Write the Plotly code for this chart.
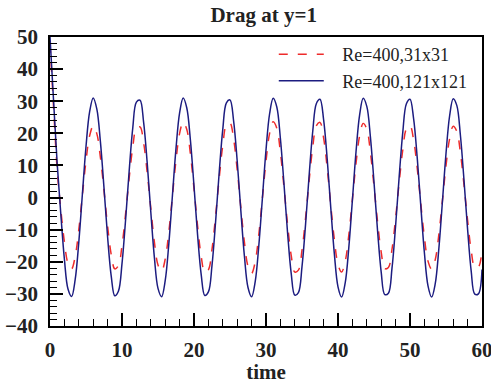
import plotly.graph_objects as go

time = [i * 0.5 for i in range(121)]

drag_121 = [
    50, 30, 10.5, -5.1, -19.2, -28.5, -30.8, -25.5, -13.9, 1.1,
    15.9, 26.7, 31.0, 27.6, 17.4, 3.0, -12.3, -24.4, -30.6, -29.2,
    -20.6, -6.9, 8.4, 21.8, 29.7, 30.3, 23.5, 10.8, -4.5, -18.7,
    -28.3, -30.9, -25.9, -14.5, 0.5, 15.3, 26.4, 31.0, 27.9, 17.9,
    3.6, -11.7, -24.0, -30.5, -29.4, -21.1, -7.5, 7.8, 21.3, 29.5,
    30.4, 23.9, 11.4, -3.9, -18.2, -28.0, -30.9, -26.2, -15.0, -0.2,
    14.8, 26.1, 30.9, 28.2, 18.4, 4.2, -11.1, -23.6, -30.4, -29.6,
    -21.5, -8.2, 7.2, 20.8, 29.3, 30.6, 24.3, 12.0, -3.3, -17.7,
    -27.8, -31.0, -26.6, -15.6, -0.8, 14.2, 25.7, 30.9, 28.4, 18.9,
    4.8, -10.5, -23.2, -30.2, -29.8, -22.0, -8.8, 6.6, 20.4, 29.2,
    30.6, 24.6, 12.5, -2.6, -17.2, -27.5, -31.0, -26.9, -16.1, -1.4,
    13.7, 25.4, 30.8, 28.7, 19.4, 5.4, -9.9, -22.9, -30.1, -30.0,
    -22.4,
]

drag_31 = [
    48, 28, 8.5, -3.7, -13.8, -20.5, -22.2, -18.3, -10.0, 0.8,
    11.4, 19.2, 22.3, 19.9, 12.5, 2.2, -8.9, -17.7, -22.2, -21.2,
    -15.0, -5.0, 6.1, 15.8, 21.6, 22.0, 17.1, 7.8, -3.3, -13.9,
    -21.0, -22.9, -19.2, -10.8, 0.4, 11.6, 20.0, 23.5, 21.2, 13.6,
    2.8, -8.9, -18.3, -23.3, -22.5, -16.1, -5.7, 6.0, 16.3, 22.6,
    23.2, 18.3, 8.7, -3.0, -13.9, -21.4, -23.6, -20.0, -11.5, -0.2,
    11.3, 20.0, 23.6, 21.6, 14.1, 3.2, -8.5, -18.0, -23.2, -22.6,
    -16.4, -6.3, 5.5, 15.9, 22.4, 23.4, 18.6, 9.2, -2.5, -13.2,
    -20.8, -23.2, -19.9, -11.7, -0.6, 10.6, 19.2, 23.1, 21.3, 14.1,
    3.5, -7.7, -17.0, -22.1, -21.8, -16.1, -6.4, 4.8, 14.9, 21.4,
    22.4, 18.0, 9.2, -1.9, -12.4, -19.8, -22.3, -19.4, -11.6, -1.0,
    9.9, 18.3, 22.2, 20.6, 14.0, 3.9, -7.1, -16.5, -21.7, -21.6,
    -16.1,
]

series_names = ["Re=400,31x31", "Re=400,121x121"]

serif = "Liberation Serif"
pad = "\u00a0\u00a0\u00a0"

fig = go.Figure()
fig.add_trace(go.Scatter(
    x=time, y=drag_31, mode="lines", name=pad + series_names[0],
    line=dict(color="#ee2b2b", width=1.5, dash="9px,10px", shape="spline"),
))
fig.add_trace(go.Scatter(
    x=time, y=drag_121, mode="lines", name=pad + series_names[1],
    line=dict(color="#1c1c80", width=1.5, shape="spline"),
))

axis_common = dict(
    showline=True, linecolor="black", linewidth=1.5, mirror=True,
    showgrid=False, zeroline=False, ticks="inside", tickcolor="black",
    tickwidth=1.5, ticklen=13, automargin=False,
    tickfont=dict(family=serif, size=21, color="#222", weight="bold"),
)

fig.update_xaxes(
    range=[0, 60], dtick=10, tick0=0,
    minor=dict(dtick=2, ticks="inside", ticklen=7, tickcolor="black", tickwidth=1.2),
    title=dict(text="time", font=dict(family=serif, size=21, color="#222", weight="bold"), standoff=4),
    ticklabelstandoff=4, ticklabeloverflow="allow",
    **axis_common,
)
fig.update_yaxes(
    range=[-40, 50], dtick=10, tick0=0,
    minor=dict(dtick=2, ticks="inside", ticklen=7, tickcolor="black", tickwidth=1.2),
    ticklabelstandoff=6,
    **axis_common,
)

fig.update_layout(
    width=491, height=384,
    margin=dict(l=50, r=9, t=37, b=58),
    paper_bgcolor="white", plot_bgcolor="white",
    title=dict(text="Drag at y=1", x=0.537, xanchor="center", y=0.962, yanchor="middle",
               font=dict(family=serif, size=21, color="#222", weight="bold")),
    legend=dict(x=0.518, y=1.003, xanchor="left", yanchor="top",
                bgcolor="rgba(0,0,0,0)", borderwidth=0,
                font=dict(family=serif, size=18, color="#222"),
                itemwidth=45, tracegroupgap=0),
    showlegend=True,
)

fig.write_html("out.html")
